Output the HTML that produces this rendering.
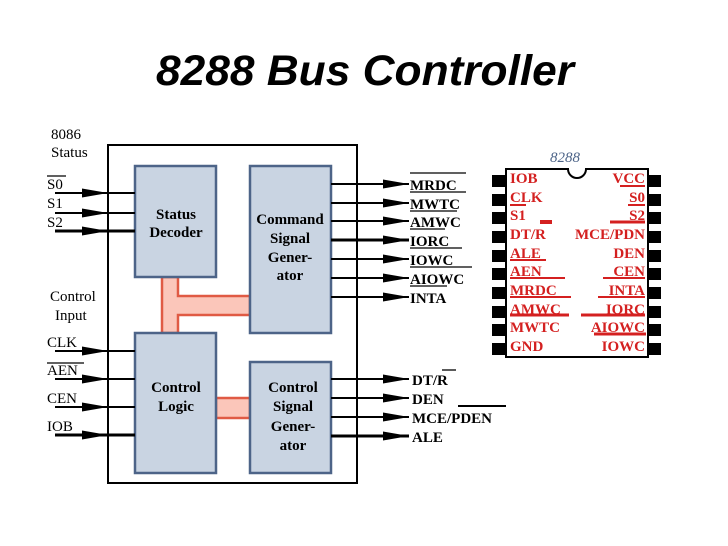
<!DOCTYPE html>
<html><head><meta charset="utf-8"><style>
html,body{margin:0;padding:0;background:#fff;}
svg{display:block;}
.s{font-family:"Liberation Serif",serif;}
</style></head><body>
<svg width="728" height="546" viewBox="0 0 728 546" xmlns="http://www.w3.org/2000/svg">
<defs>
<marker id="b" markerWidth="26" markerHeight="10" refX="26" refY="5" orient="auto" markerUnits="userSpaceOnUse"><path d="M0,0.5 L26,5 L0,9.5 z" fill="#000"/></marker></defs>
<text x="365" y="85" text-anchor="middle" font-family="Liberation Sans,sans-serif" font-weight="bold" font-style="italic" font-size="43" textLength="418" lengthAdjust="spacingAndGlyphs">8288 Bus Controller</text>

<rect x="108" y="145" width="249" height="338" fill="#fff" stroke="#000" stroke-width="2"/>
<path d="M162,277 V333 H178 V315 H250 V296 H178 V277 Z" fill="#fbc6ba" stroke="#e05a44" stroke-width="2.5"/>
<rect x="216" y="398" width="34" height="20" fill="#fbc6ba" stroke="#e05a44" stroke-width="2.5"/>
<g fill="#c9d4e2" stroke="#4d6488" stroke-width="2.5">
<rect x="135" y="166" width="81" height="111"/>
<rect x="250" y="166" width="81" height="167"/>
<rect x="135" y="333" width="81" height="140"/>
<rect x="250" y="362" width="81" height="111"/>
</g>
<g class="s" font-weight="bold" font-size="15" text-anchor="middle" fill="#000">
<text x="176" y="219">Status</text><text x="176" y="237">Decoder</text>
<text x="290" y="224">Command</text><text x="290" y="243">Signal</text><text x="290" y="262">Gener-</text><text x="290" y="280">ator</text>
<text x="176" y="392">Control</text><text x="176" y="411">Logic</text>
<text x="293" y="392">Control</text><text x="293" y="411">Signal</text><text x="293" y="431">Gener-</text><text x="293" y="450">ator</text>
</g>
<g class="s" font-size="15" fill="#000">
<text x="51" y="139">8086</text><text x="51" y="157">Status</text>
<text x="47" y="189">S0</text><text x="47" y="208">S1</text><text x="47" y="227">S2</text>
<text x="50" y="301">Control</text><text x="55" y="320">Input</text>
<text x="47" y="347">CLK</text><text x="47" y="375">AEN</text><text x="47" y="403">CEN</text><text x="47" y="431">IOB</text>
</g>
<g stroke="#000" stroke-width="1.3"><line x1="47" y1="176" x2="66" y2="176"/><line x1="47" y1="363" x2="84" y2="363"/></g>
<g stroke="#000" stroke-width="2">
<line x1="55" y1="193" x2="135" y2="193"/><line x1="55" y1="193" x2="108" y2="193" marker-end="url(#b)"/>
<line x1="55" y1="213" x2="135" y2="213"/><line x1="55" y1="213" x2="108" y2="213" marker-end="url(#b)"/>
<line x1="55" y1="231" x2="135" y2="231" stroke-width="3"/><line x1="55" y1="231" x2="108" y2="231" marker-end="url(#b)"/>
<line x1="55" y1="351" x2="135" y2="351"/><line x1="55" y1="351" x2="108" y2="351" marker-end="url(#b)"/>
<line x1="55" y1="379" x2="135" y2="379"/><line x1="55" y1="379" x2="108" y2="379" marker-end="url(#b)"/>
<line x1="55" y1="407" x2="135" y2="407"/><line x1="55" y1="407" x2="108" y2="407" marker-end="url(#b)"/>
<line x1="55" y1="435" x2="135" y2="435" stroke-width="3"/><line x1="55" y1="435" x2="108" y2="435" marker-end="url(#b)"/>
</g>
<g stroke="#000" stroke-width="2">
<line x1="331" y1="184" x2="409" y2="184" marker-end="url(#b)"/>
<line x1="331" y1="203" x2="409" y2="203" marker-end="url(#b)"/>
<line x1="331" y1="221" x2="409" y2="221" marker-end="url(#b)"/>
<line x1="331" y1="240" x2="409" y2="240" stroke-width="3" marker-end="url(#b)"/>
<line x1="331" y1="259" x2="409" y2="259" marker-end="url(#b)"/>
<line x1="331" y1="278" x2="409" y2="278" marker-end="url(#b)"/>
<line x1="331" y1="297" x2="409" y2="297" marker-end="url(#b)"/>
<line x1="331" y1="379" x2="409" y2="379" marker-end="url(#b)"/>
<line x1="331" y1="398" x2="409" y2="398" marker-end="url(#b)"/>
<line x1="331" y1="417" x2="409" y2="417" marker-end="url(#b)"/>
<line x1="331" y1="436" x2="409" y2="436" stroke-width="3" marker-end="url(#b)"/>
</g>
<g class="s" font-weight="bold" font-size="15" fill="#000">
<text x="410" y="190">MRDC</text><text x="410" y="209">MWTC</text><text x="410" y="227">AMWC</text>
<text x="410" y="246">IORC</text><text x="410" y="265">IOWC</text><text x="410" y="284">AIOWC</text><text x="410" y="303">INTA</text>
<text x="412" y="385">DT/R</text><text x="412" y="404">DEN</text><text x="412" y="423">MCE/PDEN</text><text x="412" y="442">ALE</text>
</g>
<g stroke="#000" stroke-width="1.3">
<line x1="410" y1="173" x2="466" y2="173"/><line x1="410" y1="192" x2="466" y2="192"/><line x1="410" y1="211" x2="457" y2="211"/>
<line x1="410" y1="229" x2="445" y2="229"/><line x1="410" y1="248" x2="462" y2="248"/><line x1="410" y1="267" x2="472" y2="267"/>
<line x1="410" y1="286" x2="447" y2="286"/><line x1="442" y1="370" x2="456" y2="370"/><line x1="458" y1="406" x2="506" y2="406" stroke-width="2"/>
</g>

<text x="565" y="162" text-anchor="middle" class="s" font-style="italic" font-size="15" fill="#4d6488">8288</text>
<g fill="#000">
<rect x="492" y="175" width="14" height="12"/><rect x="492" y="194" width="14" height="12"/><rect x="492" y="212" width="14" height="12"/><rect x="492" y="231" width="14" height="12"/><rect x="492" y="250" width="14" height="12"/><rect x="492" y="268" width="14" height="12"/><rect x="492" y="287" width="14" height="12"/><rect x="492" y="306" width="14" height="12"/><rect x="492" y="324" width="14" height="12"/><rect x="492" y="343" width="14" height="12"/>
<rect x="648" y="175" width="13" height="12"/><rect x="648" y="194" width="13" height="12"/><rect x="648" y="212" width="13" height="12"/><rect x="648" y="231" width="13" height="12"/><rect x="648" y="250" width="13" height="12"/><rect x="648" y="268" width="13" height="12"/><rect x="648" y="287" width="13" height="12"/><rect x="648" y="306" width="13" height="12"/><rect x="648" y="324" width="13" height="12"/><rect x="648" y="343" width="13" height="12"/>
</g>
<path d="M506,169 H568 A9,9 0 0 0 586,169 H648 V357 H506 Z" fill="#fff" stroke="#000" stroke-width="2"/>
<g class="s" font-weight="bold" font-size="15" fill="#d42020">
<text x="510" y="183">IOB</text><text x="510" y="202">CLK</text><text x="510" y="220">S1</text><text x="510" y="239">DT/R</text><text x="510" y="258">ALE</text>
<text x="510" y="276">AEN</text><text x="510" y="295">MRDC</text><text x="510" y="314">AMWC</text><text x="510" y="332">MWTC</text><text x="510" y="351">GND</text>
</g>
<g class="s" font-weight="bold" font-size="15" fill="#d42020" text-anchor="end">
<text x="645" y="183">VCC</text><text x="645" y="202">S0</text><text x="645" y="220">S2</text><text x="645" y="239">MCE/PDN</text><text x="645" y="258">DEN</text>
<text x="645" y="276">CEN</text><text x="645" y="295">INTA</text><text x="645" y="314">IORC</text><text x="645" y="332">AIOWC</text><text x="645" y="351">IOWC</text>
</g>
<g stroke="#d42020" stroke-width="2">
<line x1="620" y1="186" x2="645" y2="186"/><line x1="510" y1="205" x2="526" y2="205"/><line x1="628" y1="205" x2="645" y2="205"/>
<line x1="540" y1="222" x2="552" y2="222" stroke-width="4"/><line x1="610" y1="222" x2="645" y2="222" stroke-width="3"/>
<line x1="510" y1="260" x2="546" y2="260"/><line x1="510" y1="278" x2="565" y2="278"/><line x1="603" y1="278" x2="645" y2="278"/>
<line x1="510" y1="297" x2="571" y2="297"/><line x1="598" y1="297" x2="645" y2="297"/>
<line x1="510" y1="315" x2="569" y2="315" stroke-width="3"/><line x1="581" y1="315" x2="645" y2="315" stroke-width="3"/>
<line x1="594" y1="334" x2="646" y2="334" stroke-width="3"/>
</g>
</svg>
</body></html>
